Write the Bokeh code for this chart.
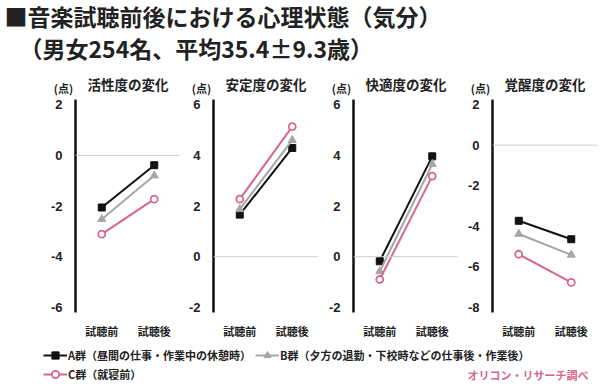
from bokeh.plotting import figure
from bokeh.layouts import column, row
from bokeh.models import Range1d, FactorRange, FixedTicker, Span, Label, Legend, LegendItem
from bokeh.embed import file_html
from bokeh.resources import INLINE

# ---------------- data ----------------
title_line1 = "■音楽試聴前後における心理状態（気分）"
title_line2 = "（男女254名、平均35.4±9.3歳）"
phases = ["試聴前", "試聴後"]
panel_titles = ["活性度の変化", "安定度の変化", "快適度の変化", "覚醒度の変化"]
unit_label = "(点)"
y_ticks = [[2, 0, -2, -4, -6], [6, 4, 2, 0, -2], [6, 4, 2, 0, -2], [2, 0, -2, -4, -6, -8]]
y_tick_labels = [["2", "0", "-2", "-4", "-6"], ["6", "4", "2", "0", "-2"],
                 ["6", "4", "2", "0", "-2"], ["2", "0", "-2", "-4", "-6", "-8"]]
group_names = ["A群（昼間の仕事・作業中の休憩時）",
               "B群（夕方の退勤・下校時などの仕事後・作業後）",
               "C群（就寝前）"]
group_a = [[-2.06, -0.39], [1.66, 4.29], [-0.18, 3.96], [-3.73, -4.64]]
group_b = [[-2.52, -0.80], [1.87, 4.60], [-0.58, 3.65], [-4.38, -5.41]]
group_c = [[-3.11, -1.73], [2.27, 5.13], [-0.90, 3.18], [-5.38, -6.77]]
source_note = "オリコン・リサーチ調べ"

# ---------------- style ----------------
JP = "Noto Sans CJK JP"
NUM = "Liberation Sans"
C_A = "#111111"
C_B = "#a6a6a6"
C_C = "#d8668c"
TXT = "#222222"

TH = 98            # height of title strip
FRAME_W = 105
TICK_SPAN = 217
PAD_T = 5.5
PAD_B = 5.5
FRAME_H = int(round(TICK_SPAN + PAD_T + PAD_B))
TOP = 1
BOTTOM = 14
PH = TOP + FRAME_H + BOTTOM
lefts = [75, 33, 35, 34]
rights = [0, 0, 0, 3]
widths = [l + FRAME_W + r for l, r in zip(lefts, rights)]
starts = [sum(widths[:k]) for k in range(4)]
axis_x = [s + l for s, l in zip(starts, lefts)]

series = [(group_a, C_A, "square", 7, C_A, 1),
          (group_b, C_B, "triangle", 8, C_B, 1),
          (group_c, C_C, "circle", 7, "white", 1.8)]


def make_panel(i):
    ticks = y_ticks[i]
    hi, lo = max(ticks), min(ticks)
    ppu = TICK_SPAN / (hi - lo)
    yr = Range1d(lo - PAD_B / ppu, hi + PAD_T / ppu)
    xr = FactorRange(*phases, range_padding=0)
    p = figure(width=widths[i], height=PH,
               x_range=xr, y_range=yr, output_backend="svg", toolbar_location=None,
               min_border_left=lefts[i], min_border_right=rights[i],
               min_border_top=TOP, min_border_bottom=BOTTOM)
    p.outline_line_color = None
    p.xgrid.visible = False
    p.ygrid.visible = False
    p.background_fill_color = "white"
    p.border_fill_color = "white"

    ya = p.yaxis[0]
    ya.ticker = FixedTicker(ticks=ticks)
    ya.major_label_overrides = {t: s for t, s in zip(ticks, y_tick_labels[i])}
    ya.axis_line_width = 2.5
    ya.axis_line_color = C_A
    ya.major_tick_line_color = None
    ya.minor_tick_line_color = None
    ya.major_label_standoff = 7
    ya.major_label_text_font = NUM
    ya.major_label_text_font_style = "bold"
    ya.major_label_text_font_size = "13px"
    ya.major_label_text_color = TXT

    xa = p.xaxis[0]
    xa.axis_line_color = None
    xa.major_tick_line_color = None
    xa.minor_tick_line_color = None
    xa.major_label_standoff = 4
    xa.major_label_text_font = JP
    xa.major_label_text_font_style = "bold"
    xa.major_label_text_font_size = "11px"
    xa.major_label_text_color = TXT

    p.add_layout(Span(location=0, dimension="width", line_color="#cfcfcf", line_width=1))

    for vals, col, mk, sz, fill, lw in series:
        p.line(phases, vals[i], line_color=col, line_width=2)
        p.scatter(phases, vals[i], marker=mk, size=sz, line_color=col,
                  fill_color=fill, line_width=lw)
    return p


panels = [make_panel(i) for i in range(4)]

# title strip (main title + panel headings)
tp = figure(width=600, height=TH, x_range=Range1d(0, 600), y_range=Range1d(0, TH),
            x_axis_type=None, y_axis_type=None, output_backend="svg", toolbar_location=None,
            min_border=0)
tp.outline_line_color = None
tp.xgrid.visible = False
tp.ygrid.visible = False
tp.add_layout(Label(x=4, y=TH - 15, text=title_line1, text_font=JP, text_font_style="bold",
                    text_font_size="23px", text_color=TXT, text_baseline="middle"))
tp.add_layout(Label(x=19, y=TH - 47, text=title_line2, text_font=JP, text_font_style="bold",
                    text_font_size="23px", text_color=TXT, text_baseline="middle"))
for i in range(4):
    tp.add_layout(Label(x=axis_x[i] + FRAME_W / 2, y=TH - 83, text=panel_titles[i],
                        text_font=JP, text_font_style="bold", text_font_size="13.5px",
                        text_color=TXT, text_align="center", text_baseline="middle"))
    tp.add_layout(Label(x=axis_x[i] - 12, y=TH - 87, text=unit_label,
                        text_font=JP, text_font_style="bold", text_font_size="11px",
                        text_color=TXT, text_align="center", text_baseline="middle"))

# legend strip
LH = 384 - TH - PH
lp = figure(width=600, height=LH, x_range=Range1d(0, 600), y_range=Range1d(0, LH),
            x_axis_type=None, y_axis_type=None, output_backend="svg", toolbar_location=None,
            min_border=0)
lp.outline_line_color = None
lp.xgrid.visible = False
lp.ygrid.visible = False

nan = float("nan")
locs = [(43, 20), (255, 20), (43, 1)]
for (vals, col, mk, sz, fill, lw), name, loc in zip(series, group_names, locs):
    r1 = lp.line([nan], [nan], line_color=col, line_width=2)
    r2 = lp.scatter([nan], [nan], marker=mk, size=sz, line_color=col, fill_color=fill,
                    line_width=lw)
    lg = Legend(items=[LegendItem(label=name, renderers=[r1, r2])], location=loc,
                orientation="horizontal", margin=0, padding=0, spacing=0,
                glyph_width=24, glyph_height=18, label_height=18, label_standoff=1,
                border_line_color=None, background_fill_alpha=0,
                label_text_font=JP, label_text_font_style="bold",
                label_text_font_size="11px", label_text_color=TXT)
    lp.add_layout(lg)

lp.add_layout(Label(x=588, y=10, text=source_note, text_font=JP, text_font_style="bold",
                    text_font_size="11px", text_color=C_C, text_align="right",
                    text_baseline="middle"))

layout = column(tp, row(*panels), lp)
open("out.html", "w").write(file_html(layout, INLINE))
